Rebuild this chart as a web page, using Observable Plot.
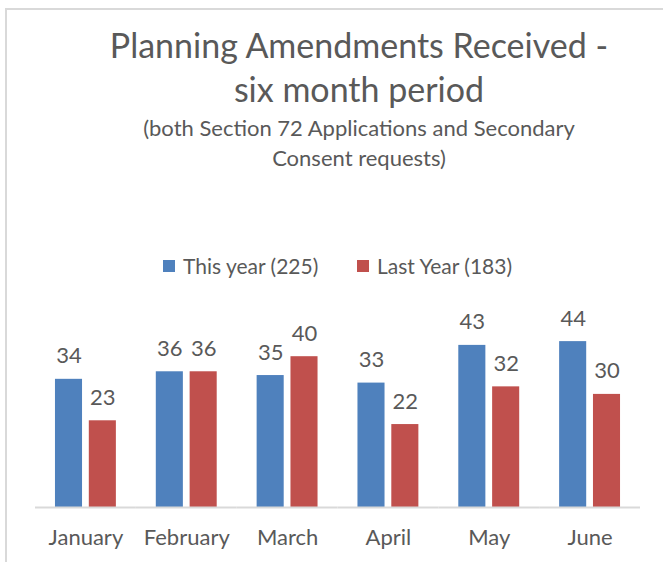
<!DOCTYPE html>
<html>
<head>
<meta charset="utf-8">
<script src="https://cdn.jsdelivr.net/npm/d3@7"></script>
<script src="https://cdn.jsdelivr.net/npm/@observablehq/plot@0.6"></script>
<style>
  html, body { margin: 0; padding: 0; background: #fff; }
  #wrap { position: relative; width: 663px; height: 562px; overflow: hidden; font-family: Lato, "Open Sans", sans-serif; color: #595959; background: #fff; }
  #wrap svg { position: absolute; left: 0; top: 0; }
  .border { position: absolute; left: 5px; top: 8px; width: 700px; height: 600px; border-top: 2px solid #d9d9d9; border-left: 2px solid #d9d9d9; }
  .line { position: absolute; left: 0; width: 718px; text-align: center; white-space: nowrap; line-height: 1; }
  .t { font-size: 34px; }
  .s { font-size: 22px; }
  .leg { position: absolute; font-size: 21px; line-height: 1; white-space: nowrap; }
  .sw { position: absolute; width: 12px; height: 12px; }
</style>
</head>
<body>
<div id="wrap"></div>
<script>
const months = ["January", "February", "March", "April", "May", "June"];
const seriesNames = ["This year (225)", "Last Year (183)"];
const thisYear = [34, 36, 35, 33, 43, 44];
const lastYear = [23, 36, 40, 22, 32, 30];
const colors = ["#4f81bd", "#c0504d"];
const titleLines = ["Planning Amendments Received -", "six month period"];
const subtitleLines = ["(both Section 72 Applications and Secondary", "Consent requests)"];

const data = [];
months.forEach((m, i) => {
  data.push({month: m, series: seriesNames[0], value: thisYear[i]});
  data.push({month: m, series: seriesNames[1], value: lastYear[i]});
});

const chart = Plot.plot({
  width: 663,
  height: 562,
  marginLeft: 35,
  marginRight: 23,
  marginBottom: 55,
  marginTop: 318.5,
  style: {fontSize: "22px", fontFamily: "Lato, 'Open Sans', sans-serif", color: "#595959", background: "transparent"},
  fx: {domain: months, paddingInner: 0, paddingOuter: 0, round: false, label: null, tickSize: 0, tickPadding: 22},
  x: {domain: seriesNames, axis: null, paddingInner: 0.2, paddingOuter: 0.59, round: false},
  y: {domain: [0, 50], axis: null},
  color: {domain: seriesNames, range: colors},
  marks: [
    Plot.barY(data, {fx: "month", x: "series", y: "value", fill: "series"}),
    Plot.ruleY([0], {stroke: "#d9d9d9", strokeWidth: 2}),
    Plot.text(data, {fx: "month", x: "series", y: "value", text: d => String(d.value), lineAnchor: "bottom", dy: -16, fill: "#595959", fontSize: 22})
  ]
});

const wrap = document.getElementById("wrap");
wrap.appendChild(chart);

const border = document.createElement("div");
border.className = "border";
wrap.appendChild(border);

function addLine(text, cls, top) {
  const d = document.createElement("div");
  d.className = "line " + cls;
  d.style.top = top + "px";
  d.textContent = text;
  wrap.appendChild(d);
}
addLine(titleLines[0], "t", 27.8);
addLine(titleLines[1], "t", 71.8);
addLine(subtitleLines[0], "s", 116.5);
addLine(subtitleLines[1], "s", 146.5);

const legX = [163, 357];
seriesNames.forEach((name, i) => {
  const sw = document.createElement("div");
  sw.className = "sw";
  sw.style.left = legX[i] + "px";
  sw.style.top = "260px";
  sw.style.background = colors[i];
  wrap.appendChild(sw);
  const t = document.createElement("div");
  t.className = "leg";
  t.style.left = (legX[i] + 20) + "px";
  t.style.top = "255.4px";
  t.textContent = name;
  wrap.appendChild(t);
});
</script>
</body>
</html>
